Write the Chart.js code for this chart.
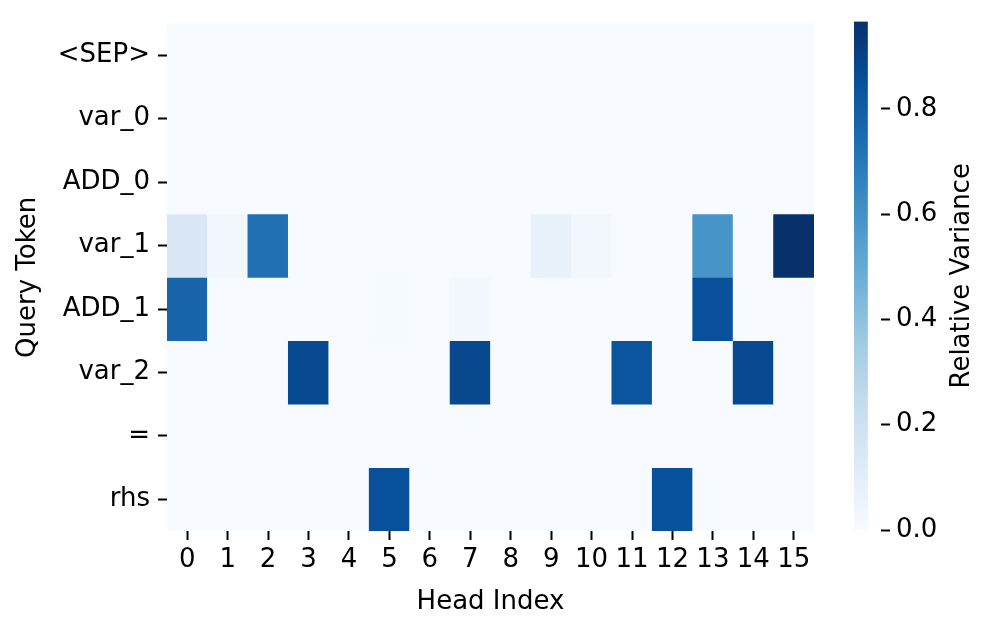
<!DOCTYPE html>
<html lang="en">
<head>
  <meta charset="UTF-8">
  <title>Relative Variance Heatmap</title>
  <script src="https://cdn.jsdelivr.net/npm/chart.js"></script>
  <style>
    body { margin: 0; background: #fff; }
    #wrap { position: relative; width: 996px; height: 630px; }
    #wrap canvas { position: absolute; left: 0; top: 0; }
  </style>
</head>
<body>
  <div id="wrap">
    <canvas id="heatmap" width="996" height="630"></canvas>
    <canvas id="colorbar" width="996" height="630"></canvas>
  </div>

  <script>
    // heads on x, query tokens on y (top to bottom)
    const heads = ['0', '1', '2', '3', '4', '5', '6', '7', '8', '9', '10', '11', '12', '13', '14', '15'];
    const tokens = ['<SEP>', 'var_0', 'ADD_0', 'var_1', 'ADD_1', 'var_2', '=', 'rhs'];

    // relative variance per head, one array per query token
    const rowSEP  = [0, 0, 0, 0, 0, 0, 0, 0, 0, 0, 0, 0, 0, 0, 0, 0];
    const rowVar0 = [0, 0, 0, 0, 0, 0, 0, 0, 0, 0, 0, 0, 0, 0, 0, 0];
    const rowAdd0 = [0, 0, 0, 0, 0, 0, 0, 0, 0, 0, 0, 0, 0, 0, 0, 0];
    const rowVar1 = [0.14, 0.03, 0.73, 0, 0, 0, 0, 0, 0, 0.07, 0.03, 0, 0, 0.59, 0, 0.966];
    const rowAdd1 = [0.77, 0, 0, 0, 0, 0.01, 0, 0.025, 0, 0, 0, 0, 0, 0.85, 0, 0];
    const rowVar2 = [0, 0, 0, 0.87, 0, 0, 0, 0.88, 0, 0, 0, 0.83, 0, 0, 0.87, 0];
    const rowEq   = [0, 0, 0, 0, 0, 0, 0, 0, 0, 0, 0, 0, 0, 0, 0, 0];
    const rowRhs  = [0, 0, 0, 0, 0, 0.85, 0, 0, 0, 0, 0, 0, 0.845, 0, 0, 0];
    const rows = [rowSEP, rowVar0, rowAdd0, rowVar1, rowAdd1, rowVar2, rowEq, rowRhs];

    const vmin = 0;
    const vmax = 0.966;
    const cbTicks = [0, 0.2, 0.4, 0.6, 0.8];

    // matplotlib "Blues"
    const bluesStops = ['#f7fbff', '#deebf7', '#c6dbef', '#9ecae1', '#6baed6', '#4292c6', '#2171b5', '#08519c', '#08306b'];

    function hexToRgb(h) {
      return [parseInt(h.slice(1, 3), 16), parseInt(h.slice(3, 5), 16), parseInt(h.slice(5, 7), 16)];
    }

    function blues(t) {
      t = Math.max(0, Math.min(1, t));
      const p = t * (bluesStops.length - 1);
      const i = Math.min(bluesStops.length - 2, Math.floor(p));
      const f = p - i;
      const a = hexToRgb(bluesStops[i]);
      const b = hexToRgb(bluesStops[i + 1]);
      const c = a.map((v, k) => Math.round(v + (b[k] - v) * f));
      return 'rgb(' + c.join(',') + ')';
    }

    Chart.defaults.font.family = "'DejaVu Sans', sans-serif";
    Chart.defaults.font.size = 26;
    Chart.defaults.color = '#000';

    // fill the cell area first so no seams show between cells
    const cellBackground = {
      id: 'cellBackground',
      beforeDatasetsDraw(chart) {
        const { ctx, chartArea } = chart;
        ctx.save();
        ctx.fillStyle = blues(0);
        ctx.fillRect(chartArea.left, chartArea.top, chartArea.right - chartArea.left, chartArea.bottom - chartArea.top);
        ctx.restore();
      }
    };

    const heatCtx = document.getElementById('heatmap').getContext('2d');
    const heatmap = new Chart(heatCtx, {
      type: 'bar',
      data: {
        labels: heads,
        datasets: tokens.map((tok, j) => ({
          label: tok,
          data: rows[j].map(() => [j, j + 1]),
          backgroundColor: rows[j].map(v => blues((v - vmin) / (vmax - vmin))),
          borderWidth: 0,
          grouped: false,
          barPercentage: 1,
          categoryPercentage: 1
        }))
      },
      options: {
        responsive: false,
        animation: false,
        layout: { padding: { left: 0, top: 19, right: 182, bottom: 0 } },
        plugins: { legend: { display: false }, tooltip: { enabled: false } },
        scales: {
          x: {
            type: 'category',
            offset: true,
            grid: { offset: false, drawOnChartArea: false, tickLength: 9, tickWidth: 2, tickColor: '#000' },
            border: { display: false },
            ticks: { padding: 5, maxRotation: 0, autoSkip: false },
            title: { display: true, text: 'Head Index', padding: { top: 0, bottom: 12 } },
            afterFit(scale) { scale.height = 99; }
          },
          y: {
            type: 'linear',
            min: 0,
            max: tokens.length,
            reverse: true,
            afterBuildTicks(scale) {
              scale.ticks = tokens.map((t, j) => ({ value: j + 0.5 }));
            },
            grid: { drawOnChartArea: false, tickLength: 9, tickWidth: 2, tickColor: '#000' },
            border: { display: false },
            ticks: {
              padding: 8,
              callback: (v) => tokens[Math.floor(v)]
            },
            title: { display: true, text: 'Query Token', padding: { top: 13, bottom: 0 } },
            afterFit(scale) { scale.width = 167; }
          }
        }
      },
      plugins: [cellBackground]
    });

    // colorbar title reads bottom to top, so it is drawn here
    const colorbarTitle = {
      id: 'colorbarTitle',
      afterDraw(chart) {
        const { ctx, chartArea } = chart;
        ctx.save();
        ctx.translate(962, (chartArea.top + chartArea.bottom) / 2);
        ctx.rotate(-Math.PI / 2);
        ctx.font = "26px 'DejaVu Sans', sans-serif";
        ctx.fillStyle = '#000';
        ctx.textAlign = 'center';
        ctx.textBaseline = 'middle';
        ctx.fillText('Relative Variance', 0, 0);
        ctx.restore();
      }
    };

    const cbCtx = document.getElementById('colorbar').getContext('2d');
    const colorbar = new Chart(cbCtx, {
      type: 'bar',
      data: {
        labels: ['cb'],
        datasets: [{
          data: [[vmin, vmax]],
          borderWidth: 0,
          barPercentage: 1,
          categoryPercentage: 1,
          backgroundColor(context) {
            const chart = context.chart;
            const yScale = chart.scales.y;
            if (!chart.chartArea || !yScale) return bluesStops[4];
            const g = chart.ctx.createLinearGradient(0, yScale.getPixelForValue(vmin), 0, yScale.getPixelForValue(vmax));
            bluesStops.forEach((c, k) => g.addColorStop(k / (bluesStops.length - 1), c));
            return g;
          }
        }]
      },
      options: {
        responsive: false,
        animation: false,
        layout: { padding: { left: 854, top: 17, right: 0, bottom: 100 } },
        plugins: { legend: { display: false }, tooltip: { enabled: false } },
        scales: {
          x: { display: false, offset: false },
          y: {
            position: 'right',
            min: vmin,
            max: vmax,
            afterBuildTicks(scale) {
              scale.ticks = cbTicks.map(v => ({ value: v }));
            },
            grid: { drawOnChartArea: false, tickLength: 9, tickWidth: 2, tickColor: '#000' },
            border: { display: false },
            ticks: { padding: 6, callback: (v) => v.toFixed(1) },
            afterFit(scale) { scale.width = 115; }
          }
        }
      },
      plugins: [colorbarTitle]
    });
  </script>
</body>
</html>
